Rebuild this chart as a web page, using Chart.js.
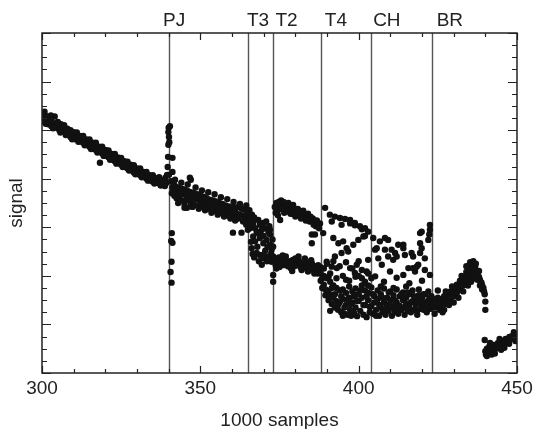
<!DOCTYPE html>
<html>
<head>
<meta charset="utf-8">
<script src="https://cdn.jsdelivr.net/npm/chart.js@4.4.1/dist/chart.umd.min.js"></script>
<style>
  html, body { margin: 0; padding: 0; background: #fff; }
  #wrap { width: 535px; height: 429px; }
</style>
</head>
<body>
<div id="wrap"><canvas id="signalChart" width="535" height="429"></canvas></div>
<script>
// event markers (x in 1000 samples); labels sit just right of their line
const markerX = [340, 365, 373, 388, 404, 423];
const markerLabels = ['PJ', 'T3', 'T2', 'T4', 'CH', 'BR'];
const markerLabelX = [341.7, 368.2, 377.2, 392.8, 408.9, 428.8];
const xTickValues = [300, 350, 400, 450];

// signal readings, [x, y] pairs, grouped by stretch of the record
const preJump = [
    [300,5.34],[300,5.24],[300.5,5.17],[301,5.30],[301.5,5.20],[302,5.12],
    [302,5.26],[303,5.18],[303,5.08],[304,5.28],[304,5.14],[304.5,5.05],
    [305,5.10],[305.5,5.00],[306,5.12],[306,5.02],[307,4.97],[307,5.06],
    [308,5.03],[308,4.92],[308.5,4.99],[309,4.95],[309,4.86],[310,4.96],
    [310,4.86],[310.5,4.81],[311,4.91],[311,4.82],[312,4.88],[312,4.77],
    [313,4.84],[313,4.74],[313.5,4.79],[314,4.81],[314,4.70],[315,4.76],
    [315,4.66],[316,4.74],[316,4.62],[316.5,4.68],[317,4.70],[317,4.59],
    [318,4.66],[318,4.56],[318.3,4.33],[319,4.62],[319,4.52],[319.5,4.57],
    [320,4.59],[320,4.47],[321,4.54],[321,4.44],[322,4.51],[322,4.40],
    [322.5,4.46],[323,4.47],[323,4.36],[324,4.44],[324,4.33],[324.5,4.39],
    [325,4.39],[325,4.29],[326,4.36],[326,4.25],[326.5,4.31],[327,4.31],
    [327,4.21],[328,4.29],[328,4.18],[328.5,4.23],[329,4.24],[329,4.13],
    [330,4.21],[330,4.10],[330.5,4.16],[331,4.17],[331,4.07],[332,4.14],
    [332,4.04],[332.5,4.09],[333,4.10],[333,4.00],[334,4.07],[334,3.97],
    [334.5,4.02],[335,4.03],[335,3.94],[336,4.01],[336,3.92],[336.5,3.96],
    [337,3.99],[337,3.90],[338,3.97],[338,3.88],[338.5,3.93],[339,4.02],
    [339,3.95],[339.5,4.08],
    [300.8,5.38],[301.2,5.13],[302.8,5.30],[303.5,5.04],[305,5.17],[305.8,4.95],
    [307,5.10],[307.5,4.90],[309,5.00],[309.5,4.81],[311,4.95],[311.5,4.76],
    [313,4.88],[313.5,4.69],[315,4.81],[315.5,4.61],[317,4.74],[317.5,4.54],
    [319,4.66],[319.5,4.47],[321,4.58],[321.5,4.39],[323,4.51],[323.5,4.31],
    [325,4.43],[325.5,4.24],[327,4.35],[327.5,4.17],[329,4.28],[329.5,4.09],
    [331,4.21],[331.5,4.03],[333,4.14],[333.5,3.96],[335,4.07],[335.5,3.90],
    [337,4.03],[337.5,3.86],[338.8,3.85],[339.2,3.91]
];

const pjSpike = [
    [340.0,5.05],[340.4,5.08],[339.9,4.96],[340.1,4.86],[340.2,4.75],[339.9,4.70],
    [339.8,4.45],[341.2,4.43],[339.7,4.24],[341.2,4.14],[340.1,4.08],[341.5,3.94],
    [341.0,2.88],[340.8,2.72],[341.2,2.68],[340.9,2.29],[340.6,2.08],[340.9,1.86]
];

const midBand = [
    [341.5,3.90],[341.5,3.78],[341.8,3.65],[342,3.85],[342.5,3.72],[342.5,3.60],
    [343,3.82],[343.5,3.70],[343.5,3.58],[344,3.80],[344.5,3.68],[344,3.55],
    [345,3.78],[345.5,3.66],[345,3.47],[346,3.75],[346.5,3.63],[346.7,4.02],
    [347,3.98],[347,3.72],[347.5,3.60],[347,3.50],[348,3.70],[348.5,3.58],
    [348,3.46],[349,3.68],[349.5,3.57],[349,3.45],[350,3.66],[350.5,3.55],
    [350,3.48],[351,3.63],[351.5,3.52],[351,3.42],[352,3.60],[352.5,3.50],
    [352,3.40],[353,3.57],[353.5,3.47],[353,3.38],[354,3.55],[354.5,3.45],
    [354,3.36],[355,3.53],[355.5,3.42],[355,3.33],[356,3.50],[356.5,3.40],
    [356,3.31],[357,3.48],[357.5,3.37],[357,3.29],[358,3.45],[358.5,3.35],
    [358,3.27],[359,3.43],[359.5,3.32],[359,3.24],[360,3.41],[360.5,3.30],
    [360,3.22],[361,3.40],[361.5,3.28],[361.5,3.20],[362,3.42],[362.5,3.26],
    [362,3.18],[363,3.38],[363.5,3.24],[363,2.89],[364,3.36],[364.5,3.22],
    [364,3.15],[365,3.30],[365,3.18],
    [340.8,3.95],[341,3.70],[341.2,3.82],[342,3.98],[343,3.50],[344,3.92],
    [345,3.40],[346,3.88],[347.5,3.42],[348.5,3.82],[349.5,3.38],[350.5,3.76],
    [351.5,3.35],[352.5,3.72],[353.5,3.30],[354.5,3.68],[355.5,3.26],[356.5,3.62],
    [357.5,3.22],[358.5,3.58],[359.5,3.18],[360.5,3.52],[361,3.14],[362.5,3.48],
    [363.5,3.12],[364.5,3.45],[364.8,3.08],[345.5,3.56],[349,3.62],[353,3.50],
    [357,3.42],[361,3.33],[345.8,3.40],[360.3,2.89]
];

const t3Scatter = [
    [365.7,3.19],[366.7,3.09],[367.3,2.98],[368.3,3.15],[368.8,3.05],[369.9,3.09],
    [370.4,2.98],[371.5,2.91],[372,2.85],[366.7,2.81],[367.3,2.71],[368.8,2.78],
    [369.9,2.67],[370.9,2.74],[372,2.64],[372.5,2.54],[366.2,2.57],[367.8,2.47],
    [368.8,2.43],[369.9,2.36],[371.5,2.40],[372.5,2.29],[369.4,2.23],[373,2.02],
    [373,1.88],[365.7,2.98],[367.8,2.91],[366.3,3.26],[365.2,3.10],[364.5,3.05],
    [365,2.95],[366,2.70],[368,2.60],[370.5,2.52],[371,2.30],[367,2.38],
    [372.8,2.75],[371.8,3.02],[369,2.90],[370,2.82],
    [365.5,3.35],[366,3.05],[367,3.20],[368,2.88],[369.5,2.96],[370.8,3.12],
    [371.2,2.60],[372.3,2.45],[366.5,2.45],[368.5,2.30],[370,2.44],[372,2.95],
    [373,2.60],[373,2.40]
];

const upperBranch = [
    [373.5,3.42],[374,3.50],[374.5,3.35],[375,3.46],[375.2,3.15],[375.5,3.55],
    [376,3.40],[376.5,3.30],[377,3.48],[377.3,3.40],[378,3.35],[378,3.44],
    [378.8,3.36],[379,3.28],[379.5,3.40],[380,3.32],[380.4,3.33],[381,3.25],
    [381.5,3.26],[382,3.30],[382.5,3.20],[383,3.22],[383.5,3.27],[384.1,3.19],
    [384.5,3.12],[385.2,3.12],[385.5,3.18],[386.2,3.09],[386.5,3.02],[387.2,3.02],
    [387.8,3.08],[385.2,2.85],[386.2,2.85],[385.2,2.67],[374.5,3.25],
    [373.8,3.30],[374.8,3.52],[375.8,3.38],[376.3,3.52],[377,3.32],[377.8,3.50],
    [378.5,3.28],[379.3,3.46],[380,3.22],[380.8,3.38],[381.8,3.18],[382.5,3.34],
    [383.3,3.14],[384,3.28],[384.8,3.22],[385.8,3.05],[386.8,3.14],[387.5,2.98],
    [389.4,3.40],[390.9,3.26],[392.5,3.22],[394.1,3.19],[395.7,3.17],[397.3,3.15],
    [398.8,3.09],[400.4,3.02],[402,2.98],[403,2.91],[391.5,3.12],[394.6,3.05],
    [397.3,3.08],[398.8,3.04],[401,2.96],[402,2.82]
];

const lowerBranch = [
    [373.5,2.35],[373.8,2.22],[374.3,2.30],[374.8,2.38],[375.2,2.25],[375.7,2.32],
    [376.2,2.22],[376.7,2.34],[377.2,2.27],[377.7,2.20],[378.2,2.30],[378.7,2.24],
    [379.2,2.33],[379.7,2.20],[380.2,2.28],[380.7,2.22],[381.2,2.30],[381.7,2.17],
    [382.2,2.25],[382.7,2.20],[383.2,2.28],[383.7,2.15],[384.2,2.24],[384.7,2.18],
    [385.2,2.26],[385.7,2.12],[386.2,2.20],[386.7,2.14],[387.2,2.22],[387.7,2.10],
    [388,2.18],[376,2.42],[379,2.10],[383,2.36],[386,2.05],
    [374,2.15],[377,2.40],[380,2.36],[382,2.12],[385,2.32],[387,2.05],
    [375,2.18],[378.5,2.16],[381,2.40],[384,2.09]
];

const chScatter = [
    [388.8,2.88],[392,2.78],[393.6,2.67],[395.1,2.71],[396.2,2.57],[396.7,2.50],
    [398.3,2.64],[399.9,2.74],[401.5,2.81],[394.6,2.47],[392.5,2.40],[389.9,2.29],
    [391.5,2.19],[393.1,2.16],[397.3,2.16],[399.4,2.23],[398.8,2.06],[401,1.95],
    [402.5,2.09],[403,2.33],[405.2,2.54],[406.7,2.71],[408.3,2.78],[406.2,2.36],
    [407.3,2.23],[409.3,2.40],[410.4,2.54],[412.5,2.64],[414.6,2.43],[415.7,2.16],
    [417.8,2.09],[418.8,2.23],[419.4,2.67],[419.9,2.57],[420.9,2.36],[422,2.74],
    [422.5,2.95],[422.5,3.05],[419.4,2.88],[416.7,2.47],[414.1,2.64],[411.5,2.47],
    [404.6,2.78],[409.3,2.74],[405.7,2.57],[408.3,2.54],[410.9,2.33],[414.1,2.57],
    [412,2.40],[417.2,2.40],[419.4,2.47],[419.9,2.91],[422.3,2.85],[418.3,2.19],
    [420.9,2.12],[414.1,2.02],[409.9,2.09],[405.2,1.99],[422.5,2.02],[417.1,2.16],
    [389,2.15],[390,2.25],[391,2.05],[392,2.30],[393,1.95],[394,2.20],
    [395,2.00],[396,2.28],[397,1.90],[398,2.15],[399,1.98],[400,2.30],
    [401,2.12],[402,1.88],[403,2.05]
];

const lowerDense = [
    [388,2.05],[388,1.90],[388.5,1.75],[389,2.00],[389,1.82],[389.5,1.60],
    [390,1.95],[390,1.70],[390.5,1.50],[391,1.88],[391,1.62],[391.5,1.42],
    [392,1.80],[392,1.55],[392.5,1.35],[393,1.75],[393,1.48],[393.5,1.30],
    [394,1.70],[394,1.45],[394.5,1.25],[395,1.72],[395,1.52],[395.5,1.22],
    [396,1.65],[396,1.40],[396.5,1.20],[397,1.78],[397,1.55],[397.3,1.30],
    [397.6,1.18],[398,1.68],[398,1.45],[398.5,1.24],[399,1.74],[399,1.35],
    [399.5,1.17],[400,1.62],[400,1.48],[400.5,1.28],[401,1.80],[401,1.55],
    [401.5,1.20],[402,1.70],[402,1.40],[402.5,1.15],[403,1.65],[403,1.50],
    [403.5,1.25],[404,1.76],[404,1.38],[404.5,1.22],[405,1.58],[405,1.45],
    [405.5,1.30],[406,1.70],[406,1.52],[406.5,1.18],[407,1.62],[407,1.35],
    [407.5,1.25],[408,1.74],[408,1.45],[408.5,1.20],[409,1.55],[409,1.40],
    [409.5,1.28],[410,1.68],[410,1.50],[410.5,1.18],[411,1.60],[411,1.35],
    [411.5,1.26],[412,1.72],[412,1.45],[412.5,1.22],[413,1.58],[413,1.38],
    [413.5,1.30],[414,1.66],[414,1.50],[414.5,1.20],[415,1.55],[415,1.42],
    [415.5,1.28],[416,1.62],[416,1.35],[416.5,1.25],[417,1.70],[417,1.48],
    [417.5,1.30],[418,1.52],[418,1.40],[418.5,1.28],[419,1.60],[419,1.45],
    [419.5,1.32],[420,1.55],[420,1.38],[420.5,1.30],[421,1.62],[421,1.45],
    [421.5,1.33],[422,1.50],[422,1.40],[422.5,1.32],[423,1.58],[423,1.42],
    [423,1.35],[390.5,1.98],[396,1.92],[400,2.00],[404,1.95],[408,1.88],
    [412,1.96],[416,1.85],[420,1.90],
    [388.5,1.95],[389.5,1.72],[390.5,1.58],[391.5,1.75],[392.5,1.62],[393.5,1.40],
    [394.5,1.58],[395.5,1.35],[396.5,1.52],[397.5,1.42],[398.5,1.58],[399.5,1.48],
    [400.5,1.70],[401.5,1.40],[402.5,1.58],[403.5,1.36],[404.5,1.62],[405.5,1.18],
    [406.5,1.40],[407.5,1.55],[408.5,1.32],[409.5,1.66],[410.5,1.38],[411.5,1.50],
    [412.5,1.34],[413.5,1.62],[414.5,1.35],[415.5,1.66],[416.5,1.45],[417.5,1.58],
    [418.5,1.20],[419.5,1.52],[420.5,1.62],[421.5,1.25],[422.5,1.55],[391,1.28],
    [395,1.18],[399,1.60],[403,1.80],[407,1.78],[411,1.75],[415,1.78],
    [419,1.72],[422,1.68]
];

const brBand = [
    [423.5,1.52],[423.5,1.38],[424,1.50],[424,1.35],[424.5,1.45],[425,1.55],
    [425,1.40],[425.5,1.30],[426,1.52],[426,1.38],[426.5,1.45],[427,1.58],
    [427,1.42],[427.5,1.50],[428,1.62],[428,1.48],[428.5,1.55],[429,1.68],
    [429,1.52],[429.5,1.60],[430,1.75],[430,1.58],[430.5,1.66],[431,1.82],
    [431,1.65],[431.5,1.74],[432,1.90],[432,1.72],[432.5,1.80],[433,1.98],
    [433,1.80],[433.5,1.90],[434,2.08],[434,1.90],[434.5,2.00],[435,2.18],
    [435,1.98],[435.5,2.10],[436,2.23],[436,2.05],[436.4,2.16],[436.8,2.18],
    [436.8,2.02],[437.2,2.10],[437.5,2.05],[437.5,1.92],[438,1.98],[438.3,1.92],
    [438.3,1.80],[438.8,1.86],[439,1.80],[439,1.72],[439.4,1.75],[439.6,1.68],
    [439.8,1.62],[440,1.47],[440,1.30],[424,1.22],[425,1.70],[426.5,1.25],
    [427.5,1.68],
    [428.5,1.40],[430,1.45],[431.5,1.55],[433,1.68],[434.5,1.80],[435.5,1.88],
    [432.5,2.00],[434,2.20],[435.2,2.28],[436.2,2.30],[437,2.25],[438,2.10],
    [436.5,1.95],[429.5,1.78],[427,1.30]
];

const tail = [
    [439.8,0.68],[440,0.45],[440.2,0.38],[440.5,0.50],[441,0.42],[441.3,0.55],
    [441.8,0.47],[442,0.52],[442.5,0.45],[442.8,0.58],[443.2,0.50],[443.6,0.56],
    [444,0.62],[444.3,0.53],[444.8,0.60],[445.2,0.66],[445.6,0.58],[446,0.64],
    [446.4,0.70],[446.8,0.62],[447.2,0.68],[447.6,0.74],[448,0.70],[448.4,0.76],
    [448.8,0.72],[449.2,0.78],[449.5,0.74],
    [440.5,0.35],[441.5,0.62],[443,0.40],[444.5,0.70],[446,0.52],[447.5,0.60],
    [449,0.84],[449.5,0.66],[442,0.38],[445,0.48]
];

const allPoints = [].concat(preJump, pjSpike, midBand, t3Scatter, upperBranch,
    lowerBranch, chScatter, lowerDense, brBand, tail)
    .map(p => ({ x: p[0], y: p[1] }));

// vertical event lines, drawn under the points
const markerLines = {
    id: 'markerLines',
    beforeDatasetsDraw(chart) {
        const ctx = chart.ctx;
        const xs = chart.scales.x;
        const { top, bottom } = chart.chartArea;
        ctx.save();
        ctx.strokeStyle = '#555';
        ctx.lineWidth = 1.4;
        markerX.forEach(v => {
            const px = Math.round(xs.getPixelForValue(v)) + 0.5;
            ctx.beginPath();
            ctx.moveTo(px, top);
            ctx.lineTo(px, bottom);
            ctx.stroke();
        });
        ctx.restore();
    }
};

// box with inward ticks on all four sides
const frameTicks = {
    id: 'frameTicks',
    afterDraw(chart) {
        const ctx = chart.ctx;
        const xs = chart.scales.x;
        const ys = chart.scales.y;
        const { left, right, top, bottom } = chart.chartArea;
        ctx.save();
        ctx.strokeStyle = '#222';
        ctx.lineWidth = 1.5;
        ctx.strokeRect(left, top, right - left, bottom - top);
        ctx.lineWidth = 1.2;
        ctx.beginPath();
        for (let v = 300; v <= 450; v += 10) {
            const px = Math.round(xs.getPixelForValue(v)) + 0.5;
            const len = v % 50 === 0 ? 7 : 4;
            ctx.moveTo(px, bottom); ctx.lineTo(px, bottom - len);
            ctx.moveTo(px, top); ctx.lineTo(px, top + len);
        }
        for (let i = 0; i <= 28; i++) {
            const py = Math.round(ys.getPixelForValue(i * 0.25)) + 0.5;
            const len = i % 4 === 0 ? 9 : 5;
            ctx.moveTo(left, py); ctx.lineTo(left + len, py);
            ctx.moveTo(right, py); ctx.lineTo(right - len, py);
        }
        ctx.stroke();
        ctx.restore();
    }
};

Chart.defaults.font.family = '"Liberation Sans", Arial, sans-serif';
Chart.defaults.color = '#222';

new Chart(document.getElementById('signalChart'), {
    type: 'scatter',
    data: {
        datasets: [{
            label: 'signal',
            data: allPoints,
            pointRadius: 3.2,
            pointHoverRadius: 3.2,
            pointBackgroundColor: '#111',
            pointBorderWidth: 0,
            showLine: false
        }]
    },
    options: {
        responsive: false,
        animation: false,
        layout: { padding: { top: 0, right: 18, bottom: 0, left: 0 } },
        plugins: {
            legend: { display: false },
            tooltip: { enabled: false }
        },
        scales: {
            x: {
                type: 'linear',
                position: 'bottom',
                min: 300,
                max: 450,
                grid: { display: false },
                border: { display: false },
                afterBuildTicks: s => { s.ticks = xTickValues.map(v => ({ value: v })); },
                afterFit: s => { s.height = 56; },
                ticks: { font: { size: 19 }, padding: -4, maxRotation: 0, autoSkip: false },
                title: {
                    display: true,
                    text: '1000 samples',
                    font: { size: 19 },
                    padding: { top: 0, bottom: -3 }
                }
            },
            xTop: {
                type: 'linear',
                position: 'top',
                min: 300,
                max: 450,
                grid: { display: false },
                border: { display: false },
                afterBuildTicks: s => { s.ticks = markerLabelX.map(v => ({ value: v })); },
                afterFit: s => { s.height = 33; },
                ticks: {
                    font: { size: 19 },
                    padding: -7,
                    maxRotation: 0,
                    autoSkip: false,
                    callback: (val, i) => markerLabels[i]
                }
            },
            y: {
                type: 'linear',
                position: 'left',
                min: 0,
                max: 7,
                grid: { display: false },
                border: { display: false },
                ticks: { display: false },
                afterFit: s => { s.width = 42; },
                title: {
                    display: true,
                    text: 'signal',
                    font: { size: 19 },
                    padding: { top: 5, bottom: 0 }
                }
            }
        }
    },
    plugins: [markerLines, frameTicks]
});
</script>
</body>
</html>
